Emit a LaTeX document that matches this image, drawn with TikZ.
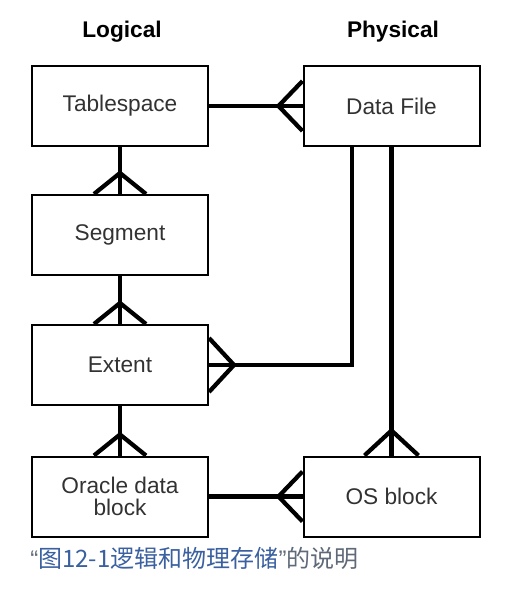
\documentclass[tikz,border=0pt]{standalone}
\usepackage{fontspec}
\setmainfont{Liberation Sans}
\newfontfamily\cjk{Noto Sans CJK SC}
\definecolor{linkblue}{RGB}{58,96,160}
\definecolor{capgray}{RGB}{95,105,120}
\definecolor{boxtext}{RGB}{50,50,50}

\begin{document}
\begin{tikzpicture}[x=0.75pt,y=-0.75pt,
        box/.style={draw, line width=1.5pt, minimum width=132pt, minimum height=60pt,
            align=center, inner sep=0pt, text=boxtext, font=\fontsize{17}{17}\selectfont},
        title/.style={font=\fontsize{17}{20}\selectfont\bfseries},
        link/.style={line width=3.2pt}]
        \useasboundingbox (0,0) rectangle (522,594);
        \node[title] (logical) at (122,32) {Logical};
        \node[title] (physical) at (393,32) {Physical};
        \node[box] (ts) at (120,106) {Tablespace};
        \node[box] (seg) at (120,235) {Segment};
        \node[box] (ext) at (120,365) {Extent};
        \node[box] (odb) at (120,496.5) {Oracle data\\block};
        \node[box] (df) at (391.5,106) {Data File};
        \node[box] (os) at (391.5,496.5) {OS block};
        % logical chain
        \foreach \a/\b in {ts/seg, seg/ext, ext/odb}{
            \draw[link] (\a.south) -- (\b.north);
            \draw[link] (\b.north) ++(-26,0) -- ++(26,-21) -- ++(26,21);
        }
        % logical to physical
        \foreach \a/\b in {ts/df, odb/os}{
            \draw[link] (\a.east) -- (\b.west);
            \draw[link] (\b.west) ++(0,-25) -- ++(-24,25) -- ++(24,25);
        }
        % data file down
        \draw[link] ([xshift=-29.6pt]df.south) |- (ext.east);
        \draw[link] (ext.east) ++(0,-27) -- ++(25,27) -- ++(-25,27);
        \draw[link] (df.south) -- (os.north);
        \draw[link] (os.north) ++(-27,0) -- ++(27,-25) -- ++(27,25);
        \node[anchor=west, inner sep=0pt, font=\fontsize{18}{20}\selectfont] (cap) at (30,558)
            {\textcolor{capgray}{“}{\cjk\textcolor{linkblue}{图12-1逻辑和物理存储}}\textcolor{capgray}{”}{\cjk\textcolor{capgray}{的说明}}};
\end{tikzpicture}
\end{document}
